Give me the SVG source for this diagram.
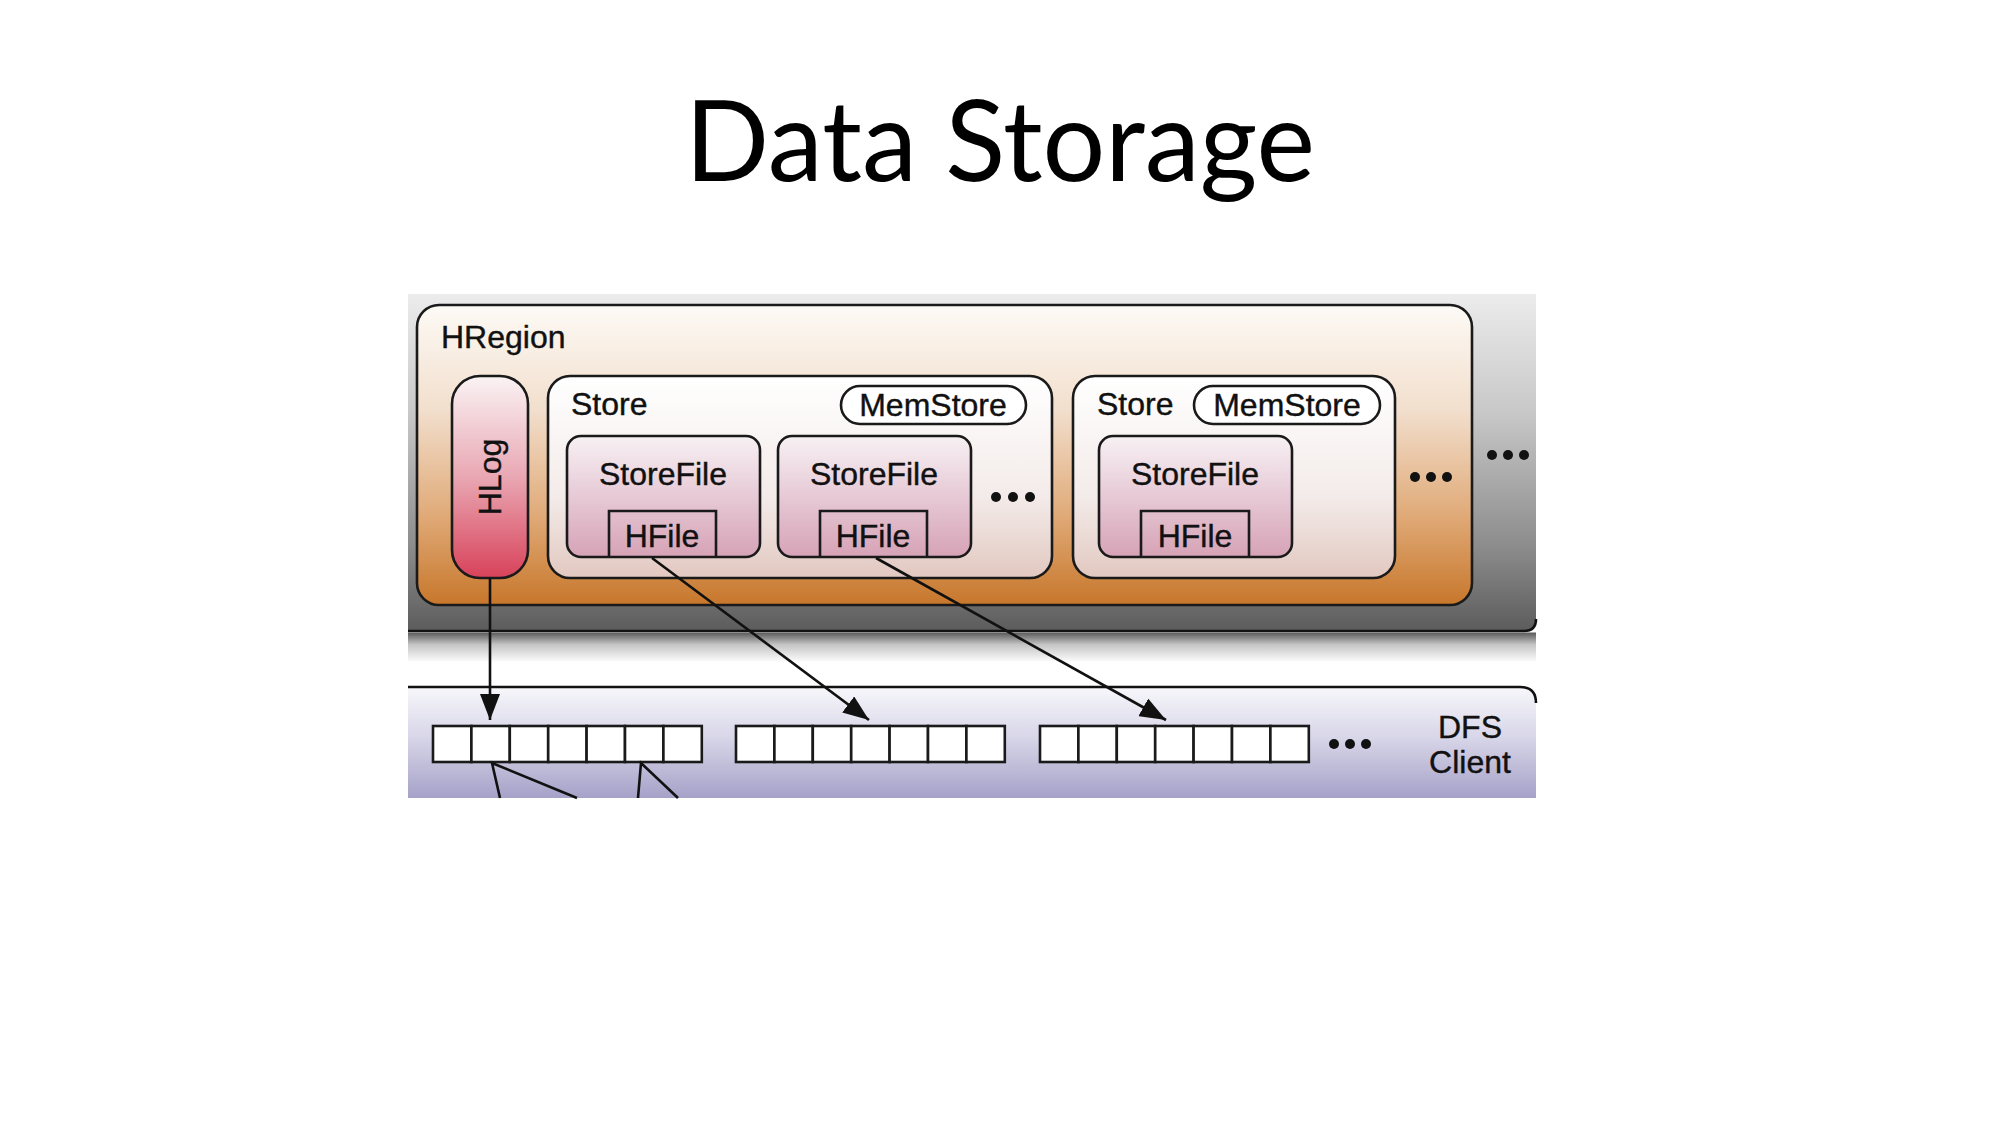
<svg xmlns="http://www.w3.org/2000/svg" width="2000" height="1125" viewBox="0 0 2000 1125">
<defs>
<style>
.t{font-family:"Liberation Sans",Arial,sans-serif;font-size:32px;fill:#111;stroke:#111;stroke-width:0.4;}
.c{text-anchor:middle;}
.bx{stroke:#1a1a1a;stroke-width:2.6;}
.ln{stroke:#111;stroke-width:2.6;fill:none;}
.cell{fill:#fff;stroke:#1a1a1a;stroke-width:2.6;}
.dot{fill:#111;}
</style>
<linearGradient id="gGray" x1="0" y1="0" x2="0" y2="1">
<stop offset="0" stop-color="#ececec"/>
<stop offset="0.35" stop-color="#c8c8c8"/>
<stop offset="0.75" stop-color="#8c8c8c"/>
<stop offset="1" stop-color="#5c5c5c"/>
</linearGradient>
<linearGradient id="gShadow" x1="0" y1="0" x2="0" y2="1">
<stop offset="0" stop-color="#5a5a5a"/>
<stop offset="0.4" stop-color="#c4c4c4"/>
<stop offset="1" stop-color="#ffffff"/>
</linearGradient>
<linearGradient id="gRegion" x1="0" y1="0" x2="0" y2="1">
<stop offset="0" stop-color="#fdfaf6"/>
<stop offset="0.35" stop-color="#f2dfcd"/>
<stop offset="0.7" stop-color="#e0aa78"/>
<stop offset="1" stop-color="#c7772b"/>
</linearGradient>
<linearGradient id="gStore" x1="0" y1="0" x2="0" y2="1">
<stop offset="0" stop-color="#ffffff"/>
<stop offset="0.6" stop-color="#f3ebe9"/>
<stop offset="1" stop-color="#e2c8c0"/>
</linearGradient>
<linearGradient id="gFile" x1="0" y1="0" x2="0" y2="1">
<stop offset="0" stop-color="#f7f1f4"/>
<stop offset="1" stop-color="#d6a2b6"/>
</linearGradient>
<linearGradient id="gHlog" x1="0" y1="0" x2="0" y2="1">
<stop offset="0" stop-color="#faf3f4"/>
<stop offset="0.5" stop-color="#e9a7b3"/>
<stop offset="1" stop-color="#d8425a"/>
</linearGradient>
<linearGradient id="gDfs" x1="0" y1="0" x2="0" y2="1">
<stop offset="0" stop-color="#f7f7fb"/>
<stop offset="0.45" stop-color="#d8d6e8"/>
<stop offset="1" stop-color="#a6a1c8"/>
</linearGradient>
<marker id="ah" viewBox="0 0 26 20" refX="26" refY="10" markerWidth="26" markerHeight="20" markerUnits="userSpaceOnUse" orient="auto">
<path d="M0,0 L26,10 L0,20 z" fill="#111"/>
</marker>
</defs>
<rect width="2000" height="1125" fill="#ffffff"/>
<text x="1000" y="181" text-anchor="middle" font-family="Lato,'Open Sans',sans-serif" font-size="112" fill="#000" textLength="630" lengthAdjust="spacingAndGlyphs">Data Storage</text>

<g id="regionserver-band">
<path d="M408,294 H1536 V619 Q1536,631 1524,631 H408 Z" fill="url(#gGray)"/>
<path d="M408,631 H1524 Q1536,631 1536,619" class="ln" stroke="#222" stroke-width="3"/>
<rect x="408" y="632.5" width="1128" height="30" fill="url(#gShadow)"/>
<circle class="dot" cx="1492" cy="455" r="5"/>
<circle class="dot" cx="1508" cy="455" r="5"/>
<circle class="dot" cx="1524" cy="455" r="5"/>
</g>

<g id="dfs-client">
<path d="M408,687 H1520 Q1536,687 1536,703 V798 H408 Z" fill="url(#gDfs)"/>
<path d="M408,687 H1520 Q1536,687 1536,703" class="ln"/>
<text class="t c" x="1470" y="738">DFS</text>
<text class="t c" x="1470" y="773">Client</text>
<circle class="dot" cx="1334" cy="744" r="5"/>
<circle class="dot" cx="1350" cy="744" r="5"/>
<circle class="dot" cx="1366" cy="744" r="5"/>
</g>

<g id="block-row-1">
<rect class="cell" x="433" y="726" width="38.4" height="36"/>
<rect class="cell" x="471.4" y="726" width="38.4" height="36"/>
<rect class="cell" x="509.8" y="726" width="38.4" height="36"/>
<rect class="cell" x="548.2" y="726" width="38.4" height="36"/>
<rect class="cell" x="586.6" y="726" width="38.4" height="36"/>
<rect class="cell" x="625" y="726" width="38.4" height="36"/>
<rect class="cell" x="663.4" y="726" width="38.4" height="36"/>
</g>
<g id="block-row-2">
<rect class="cell" x="736" y="726" width="38.4" height="36"/>
<rect class="cell" x="774.4" y="726" width="38.4" height="36"/>
<rect class="cell" x="812.8" y="726" width="38.4" height="36"/>
<rect class="cell" x="851.2" y="726" width="38.4" height="36"/>
<rect class="cell" x="889.6" y="726" width="38.4" height="36"/>
<rect class="cell" x="928" y="726" width="38.4" height="36"/>
<rect class="cell" x="966.4" y="726" width="38.4" height="36"/>
</g>
<g id="block-row-3">
<rect class="cell" x="1040" y="726" width="38.4" height="36"/>
<rect class="cell" x="1078.4" y="726" width="38.4" height="36"/>
<rect class="cell" x="1116.8" y="726" width="38.4" height="36"/>
<rect class="cell" x="1155.2" y="726" width="38.4" height="36"/>
<rect class="cell" x="1193.6" y="726" width="38.4" height="36"/>
<rect class="cell" x="1232" y="726" width="38.4" height="36"/>
<rect class="cell" x="1270.4" y="726" width="38.4" height="36"/>
</g>

<g id="hregion">
<rect class="bx" x="417" y="305" width="1055" height="300" rx="22" fill="url(#gRegion)"/>
<text class="t" x="441" y="348">HRegion</text>
<circle class="dot" cx="1415" cy="477" r="5"/>
<circle class="dot" cx="1431" cy="477" r="5"/>
<circle class="dot" cx="1447" cy="477" r="5"/>
</g>

<g id="hlog">
<rect class="bx" x="452" y="376" width="76" height="202" rx="28" fill="url(#gHlog)"/>
<text class="t c" transform="translate(501,477) rotate(-90)" x="0" y="0">HLog</text>
</g>

<g id="store-1">
<rect class="bx" x="548" y="376" width="504" height="202" rx="22" fill="url(#gStore)"/>
<text class="t" x="571" y="415">Store</text>
<circle class="dot" cx="996" cy="497" r="5"/>
<circle class="dot" cx="1013" cy="497" r="5"/>
<circle class="dot" cx="1030" cy="497" r="5"/>
</g>
<g id="memstore-1">
<rect class="bx" x="841" y="386" width="185" height="38" rx="19" fill="#ffffff"/>
<text class="t c" x="933" y="416">MemStore</text>
</g>
<g id="storefile-1">
<rect class="bx" x="567" y="436" width="193" height="121" rx="14" fill="url(#gFile)"/>
<text class="t c" x="663" y="485">StoreFile</text>
</g>
<g id="hfile-1">
<path class="bx" d="M609,557 V511 H716 V557" fill="none"/>
<text class="t c" x="662" y="547">HFile</text>
</g>
<g id="storefile-2">
<rect class="bx" x="778" y="436" width="193" height="121" rx="14" fill="url(#gFile)"/>
<text class="t c" x="874" y="485">StoreFile</text>
</g>
<g id="hfile-2">
<path class="bx" d="M820,557 V511 H927 V557" fill="none"/>
<text class="t c" x="873" y="547">HFile</text>
</g>

<g id="store-2">
<rect class="bx" x="1073" y="376" width="322" height="202" rx="22" fill="url(#gStore)"/>
<text class="t" x="1097" y="415">Store</text>
</g>
<g id="memstore-2">
<rect class="bx" x="1194" y="386" width="186" height="38" rx="19" fill="#ffffff"/>
<text class="t c" x="1287" y="416">MemStore</text>
</g>
<g id="storefile-3">
<rect class="bx" x="1099" y="436" width="193" height="121" rx="14" fill="url(#gFile)"/>
<text class="t c" x="1195" y="485">StoreFile</text>
</g>
<g id="hfile-3">
<path class="bx" d="M1141,557 V511 H1249 V557" fill="none"/>
<text class="t c" x="1195" y="547">HFile</text>
</g>

<g id="connectors">
<line class="ln" x1="490" y1="578" x2="490" y2="720" marker-end="url(#ah)"/>
<line class="ln" x1="652" y1="558" x2="869" y2="720" marker-end="url(#ah)"/>
<line class="ln" x1="876" y1="558" x2="1166" y2="720" marker-end="url(#ah)"/>
<path class="ln" d="M500,798 L492,763 L577,798"/>
<path class="ln" d="M638,798 L641,763 L678,798"/>
</g>
</svg>
